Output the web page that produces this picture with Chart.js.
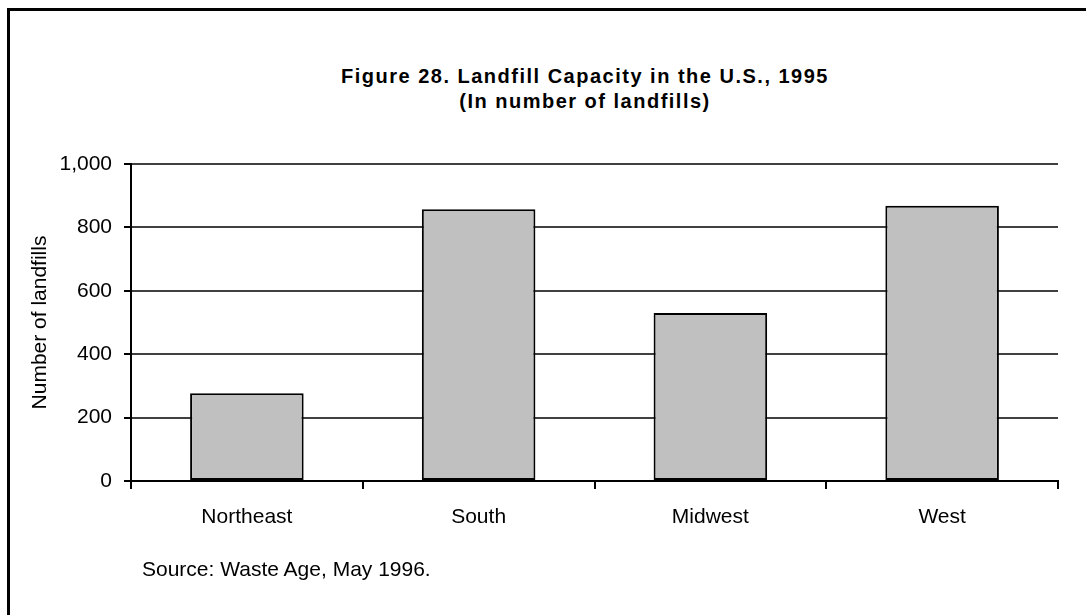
<!DOCTYPE html>
<html>
<head>
<meta charset="utf-8">
<script src="https://cdn.jsdelivr.net/npm/chart.js@4/dist/chart.umd.min.js"></script>
<style>
  html, body { margin: 0; padding: 0; background: #fff; }
  #wrap { position: relative; width: 1086px; height: 615px; overflow: hidden; }
  #frame {
    position: absolute; left: 7px; top: 8px; right: -10px; bottom: -10px;
    border-top: 3px solid #000; border-left: 3px solid #000;
  }
  #title {
    position: absolute; left: 235px; width: 700px; top: 64px;
    text-align: center; font: bold 20px "Liberation Sans", Arial, sans-serif;
    letter-spacing: 1.5px; line-height: 25px; color: #000;
  }
  #source {
    position: absolute; left: 142px; top: 557px;
    font: 21px "Liberation Sans", Arial, sans-serif; color: #000;
  }
  canvas { position: absolute; left: 0; top: 0; }
</style>
</head>
<body>
<div id="wrap">
  <div id="frame"></div>
  <div id="title">Figure 28. Landfill Capacity in the U.S., 1995<br>(In number of landfills)</div>
  <canvas id="landfillChart" width="1086" height="615"></canvas>
  <div id="source">Source: Waste Age, May 1996.</div>
</div>
<script>
// regioni si numar de gropi de gunoi
const regions = ["Northeast", "South", "Midwest", "West"];
const landfills = [277, 857, 530, 868];
const yTicks = [0, 200, 400, 600, 800, 1000];

const fontFam = '"Liberation Sans", Arial, sans-serif';

const ctx = document.getElementById("landfillChart").getContext("2d");
new Chart(ctx, {
  type: "bar",
  data: {
    labels: regions,
    datasets: [{
      data: landfills,
      backgroundColor: "#c0c0c0",
      borderColor: "#000",
      borderWidth: 2,
      borderSkipped: false,
      categoryPercentage: 1,
      barPercentage: 0.49
    }]
  },
  options: {
    responsive: false,
    animation: false,
    layout: { padding: { left: 28, right: 28, top: 164, bottom: 74 } },
    plugins: {
      legend: { display: false },
      tooltip: { enabled: false }
    },
    scales: {
      x: {
        grid: {
          offset: true,
          drawOnChartArea: false,
          color: "#000",
          lineWidth: 2,
          tickLength: 8
        },
        border: { color: "#000", width: 2 },
        ticks: { color: "#000", font: { family: fontFam, size: 21 }, padding: 16 },
        afterFit: s => { s.height = 60; }
      },
      y: {
        min: 0,
        max: 1000,
        afterBuildTicks: s => { s.ticks = yTicks.map(v => ({ value: v })); },
        grid: {
          color: "#404040",
          lineWidth: 2,
          tickColor: "#000",
          tickLength: 7
        },
        border: { color: "#000", width: 2 },
        ticks: {
          color: "#000",
          font: { family: fontFam, size: 21 },
          padding: 12,
          callback: v => v.toLocaleString("en-US")
        },
        title: {
          display: true,
          text: "Number of landfills",
          color: "#000",
          font: { family: fontFam, size: 21 },
          padding: { top: 0, bottom: 10 }
        },
        afterFit: s => { s.width = 103; }
      }
    }
  }
});
</script>
</body>
</html>
